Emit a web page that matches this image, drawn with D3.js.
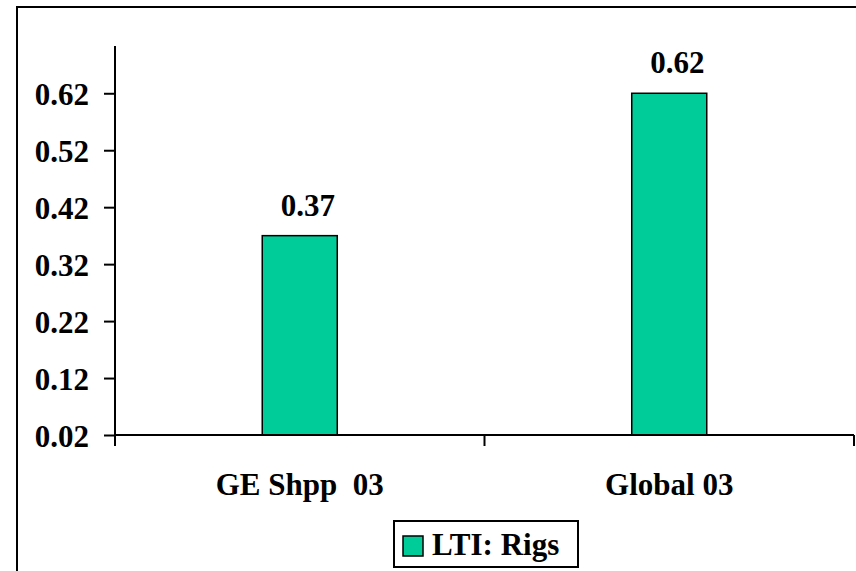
<!DOCTYPE html>
<html>
<head>
<meta charset="utf-8">
<script src="https://cdn.jsdelivr.net/npm/d3@7"></script>
<style>
  html, body { margin: 0; padding: 0; background: #fff; }
  svg { display: block; }
</style>
</head>
<body>
<svg id="chart" width="856" height="571"></svg>
<script>
const categories = ["GE Shpp  03", "Global 03"];
const values = [0.37, 0.62];
const valueLabels = ["0.37", "0.62"];
const yTicks = [0.02, 0.12, 0.22, 0.32, 0.42, 0.52, 0.62];
const yTickLabels = ["0.02", "0.12", "0.22", "0.32", "0.42", "0.52", "0.62"];
const seriesName = "LTI: Rigs";

const FONT = '"Liberation Serif"';
const svg = d3.select("#chart");
const fontSize = 31;

function styleText(sel) {
  return sel.style("font-family", FONT).style("font-weight", "bold")
    .style("font-size", fontSize + "px").style("fill", "#000");
}

// outer frame (extends beyond right/bottom edges)
svg.append("rect")
  .attr("x", 17).attr("y", 7)
  .attr("width", 900).attr("height", 620)
  .attr("fill", "none").attr("stroke", "#000").attr("stroke-width", 2);

const plot = { left: 115, right: 854, top: 46, bottom: 435 };

const x = d3.scaleBand().domain(categories).range([plot.left, plot.right]).padding(0);
const y = d3.scaleLinear().domain([0.02, 0.703]).range([plot.bottom, plot.top]);

// bars
const barW = x.bandwidth() * 0.203;
svg.selectAll("rect.bar").data(values).enter().append("rect")
  .attr("class", "bar")
  .attr("x", (d, i) => x(categories[i]) + x.bandwidth() / 2 - barW / 2)
  .attr("y", d => y(d))
  .attr("width", barW)
  .attr("height", d => y(0.02) - y(d))
  .attr("fill", "#00CC99")
  .attr("stroke", "#000").attr("stroke-width", 1.5);

// value labels
styleText(svg.selectAll("text.val").data(values).enter().append("text")
  .attr("class", "val")
  .attr("x", (d, i) => x(categories[i]) + x.bandwidth() / 2 + 8)
  .attr("y", d => y(d) - 20)
  .attr("text-anchor", "middle")
  .text((d, i) => valueLabels[i]));

// y axis
const yAxis = d3.axisLeft(y).tickValues(yTicks)
  .tickFormat((d, i) => yTickLabels[i])
  .tickSizeInner(11).tickSizeOuter(0).tickPadding(15);
const gy = svg.append("g").attr("transform", `translate(${plot.left},0)`).call(yAxis);
gy.select(".domain").attr("stroke", "#000").attr("stroke-width", 2)
  .attr("d", `M0,${plot.top}V${plot.bottom + 11}`);
gy.selectAll(".tick line").attr("stroke", "#000").attr("stroke-width", 2);
styleText(gy.selectAll(".tick text")).attr("dy", "0.36em");

// x axis
const gx = svg.append("g").attr("transform", `translate(0,${plot.bottom})`);
gx.append("line").attr("x1", plot.left).attr("x2", plot.right)
  .attr("stroke", "#000").attr("stroke-width", 2);
const boundaries = categories.map(c => x(c)).concat([plot.right]);
gx.selectAll("line.tk").data(boundaries.slice(1)).enter().append("line")
  .attr("class", "tk")
  .attr("x1", d => d).attr("x2", d => d)
  .attr("y1", 0).attr("y2", 11)
  .attr("stroke", "#000").attr("stroke-width", 2);
styleText(gx.selectAll("text.cat").data(categories).enter().append("text")
  .attr("class", "cat")
  .attr("x", d => x(d) + x.bandwidth() / 2)
  .attr("y", 60)
  .attr("text-anchor", "middle")
  .text(d => d)).style("white-space", "pre");

// legend
const lg = svg.append("g").attr("transform", "translate(394,521)");
lg.append("rect").attr("width", 184).attr("height", 46)
  .attr("fill", "#fff").attr("stroke", "#000").attr("stroke-width", 2);
lg.append("rect").attr("x", 9).attr("y", 15).attr("width", 20).attr("height", 20)
  .attr("fill", "#00CC99").attr("stroke", "#000").attr("stroke-width", 1.5);
styleText(lg.append("text").attr("x", 38).attr("y", 34).text(seriesName));
</script>
</body>
</html>
